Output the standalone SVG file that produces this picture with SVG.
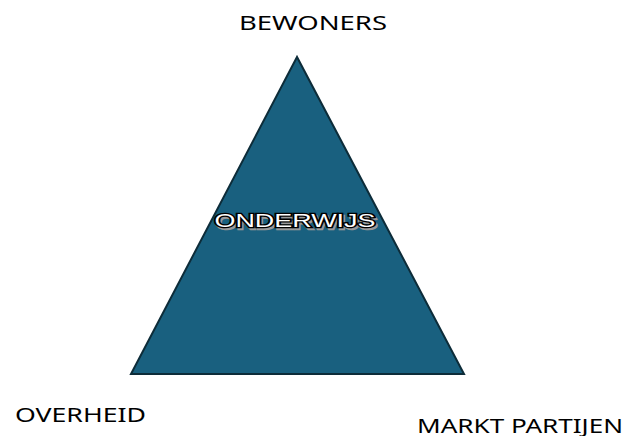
<svg xmlns="http://www.w3.org/2000/svg" width="627" height="436" viewBox="0 0 627 436">
<style>
.lbl{font-family:"Noto Sans","Liberation Sans",Arial,sans-serif;font-size:20.5px;fill:#000}
.main{font-family:"Liberation Sans",Arial,sans-serif;font-size:18px}
</style>
<rect width="627" height="436" fill="#fff"/>
<g id="triangle">
<polygon points="297,57 131,374 464,374" fill="#19607f" stroke="#0d2c39" stroke-width="2" stroke-linejoin="miter"/>
<text class="main" x="216" y="228.5" textLength="161" lengthAdjust="spacingAndGlyphs" fill="#999" stroke="#999" stroke-width="2.6">ONDERWIJS</text>
<text class="main" x="214.5" y="227" textLength="161" lengthAdjust="spacingAndGlyphs" fill="#fff" stroke="#000" stroke-width="2.6" paint-order="stroke">ONDERWIJS</text>
</g>
<g id="bewoners"><text class="lbl" x="239" y="30" textLength="148" lengthAdjust="spacingAndGlyphs">BEWONERS</text></g>
<g id="overheid"><text class="lbl" x="15" y="422" textLength="131" lengthAdjust="spacingAndGlyphs">OVERHEID</text></g>
<g id="markt"><text class="lbl" x="417" y="432.5" textLength="206" lengthAdjust="spacingAndGlyphs">MARKT PARTIJEN</text></g>
<g id="connectors"></g>
</svg>
